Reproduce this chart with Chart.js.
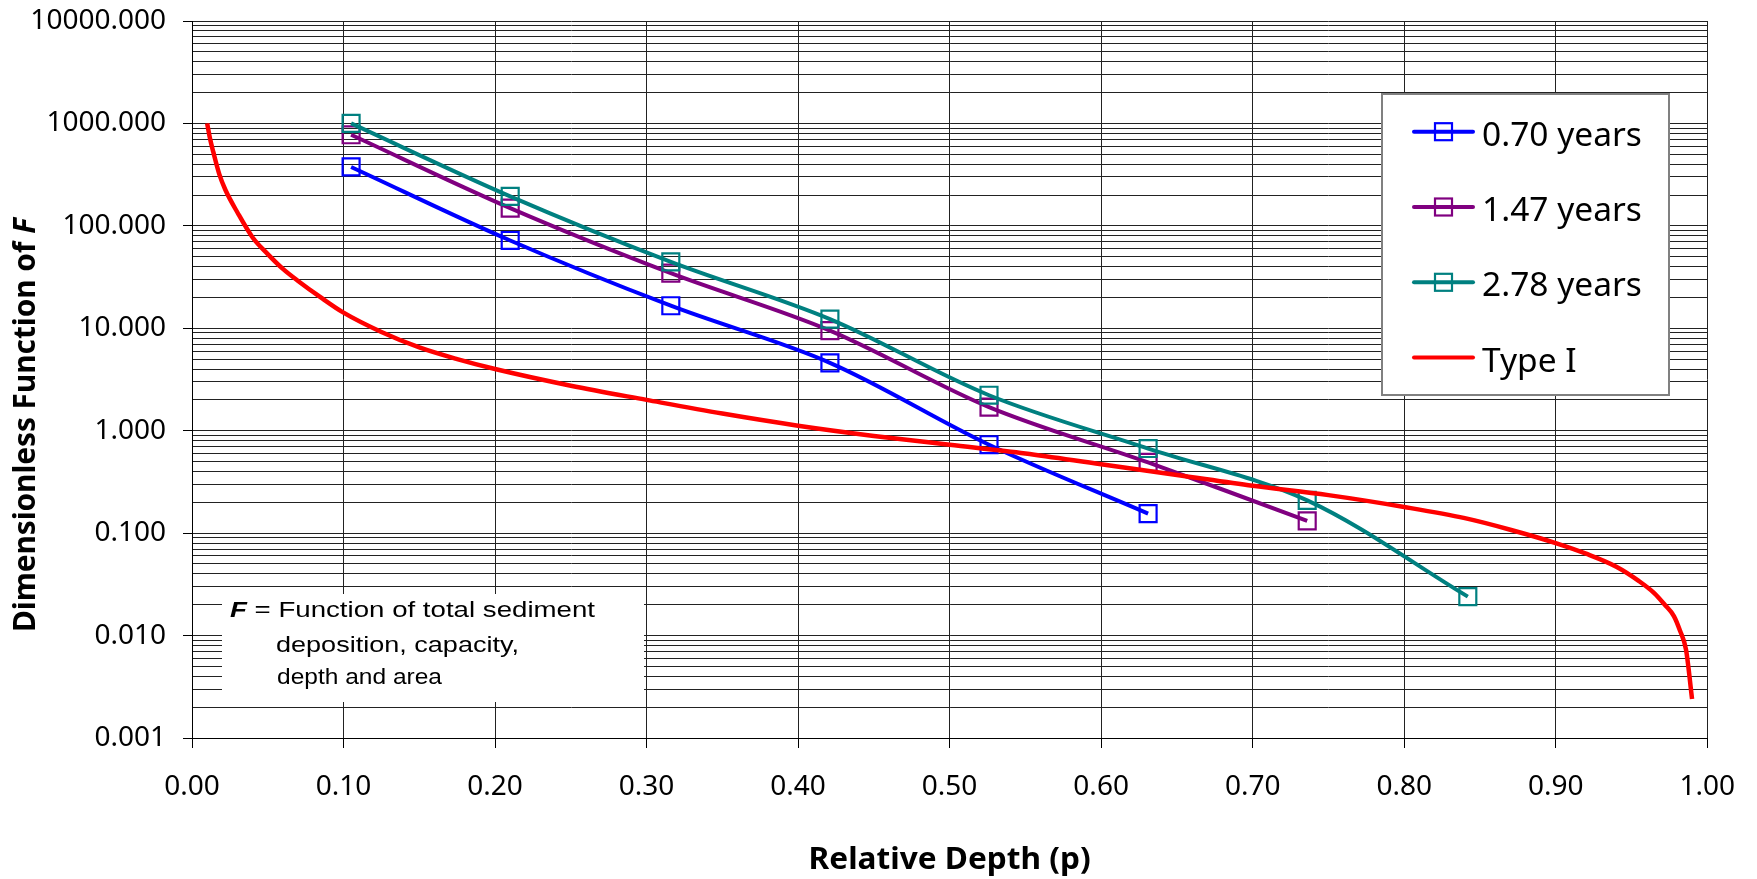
<!DOCTYPE html>
<html>
<head>
<meta charset="utf-8">
<title>Dimensionless Function of F</title>
<script src="https://cdn.jsdelivr.net/npm/chart.js@4.4.1/dist/chart.umd.min.js"></script>
<style>
  html, body { margin: 0; padding: 0; background: #fff; }
</style>
</head>
<body>
<canvas id="sedimentChart" width="1757" height="879"></canvas>
<script>
// Relative depth of the surveyed points (shared by all surveys)
const depthPoints = [0.105, 0.210, 0.316, 0.421, 0.526, 0.631, 0.736, 0.842];

// F for each survey
const f070years = [376, 72, 16.6, 4.6, 0.73, 0.155];
const f147years = [775, 149, 34.5, 9.5, 1.70, 0.49, 0.132];
const f278years = [1000, 194, 44.5, 12.3, 2.22, 0.67, 0.209, 0.024];

// Type I reservoir curve
const typeIDepth = [0.010, 0.012, 0.014, 0.018, 0.022, 0.030, 0.040, 0.050, 0.060, 0.070,
  0.085, 0.100, 0.125, 0.150, 0.175, 0.200, 0.250, 0.300, 0.350, 0.400,
  0.450, 0.500, 0.550, 0.600, 0.650, 0.700, 0.750, 0.800, 0.840, 0.870,
  0.900, 0.920, 0.940, 0.955, 0.965, 0.972, 0.978, 0.982, 0.986, 0.990];
const typeIF = [1000, 700, 530, 320, 225, 135, 77, 53, 38, 29,
  20, 14.2, 9.2, 6.5, 5.0, 4.0, 2.75, 2.0, 1.47, 1.12,
  0.89, 0.73, 0.60, 0.47, 0.37, 0.29, 0.235, 0.18, 0.14, 0.108,
  0.080, 0.063, 0.047, 0.034, 0.026, 0.020, 0.0155, 0.0112, 0.0073, 0.0024];

const seriesNames = ["0.70 years", "1.47 years", "2.78 years", "Type I"];
const seriesColors = ["#0000FF", "#800080", "#008080", "#FF0000"];

// Axis ticks
const yDecades = [0.001, 0.01, 0.1, 1, 10, 100, 1000, 10000];
const xTickValues = [0, 0.1, 0.2, 0.3, 0.4, 0.5, 0.6, 0.7, 0.8, 0.9, 1.0];

const toPoints = (xs, ys) => ys.map((y, i) => ({ x: xs[i], y }));
const isDecade = (v) => yDecades.some((d) => Math.abs(v - d) < d * 1e-6);

// Log grid: 1..9 inside every decade, plus the top line
const yGridValues = [];
yDecades.slice(0, -1).forEach((d) => {
  for (let m = 1; m <= 9; m++) yGridValues.push(Number((m * d).toPrecision(3)));
});
yGridValues.push(yDecades[yDecades.length - 1]);

const tickFont = { family: "'Noto Sans'", size: 28 };
const titleFont = "bold 29.5px 'Noto Sans'";
const titleItalic = "italic bold 29.5px 'Noto Sans'";

const surveySet = (idx, values, order) => ({
  label: seriesNames[idx],
  data: toPoints(depthPoints, values),
  borderColor: seriesColors[idx],
  backgroundColor: "transparent",
  borderWidth: 4,
  tension: 0.33,
  pointStyle: "rect",
  pointRadius: 12,
  pointBorderWidth: 2.2,
  pointBorderColor: seriesColors[idx],
  pointBackgroundColor: "transparent",
  order,
});

// draws runs of [text, font] squeezed/stretched to a given total width
const drawRuns = (ctx, runs, width) => {
  let total = 0;
  runs.forEach(([text, font]) => { ctx.font = font; total += ctx.measureText(text).width; });
  ctx.scale(width / total, 1);
  let cx = 0;
  runs.forEach(([text, font]) => {
    ctx.font = font;
    ctx.fillText(text, cx, 0);
    cx += ctx.measureText(text).width;
  });
};

// Legend, note box and axis titles
const decorPlugin = {
  id: "decor",
  afterDraw(chart) {
    const ctx = chart.ctx;
    const area = chart.chartArea;
    ctx.save();
    ctx.textBaseline = "alphabetic";

    // note box
    ctx.fillStyle = "#fff";
    ctx.fillRect(222, 594, 422, 108);
    ctx.fillStyle = "#000";
    const reg = "22.5px 'Liberation Sans'";
    const noteLine = (x, y, runs, width) => {
      ctx.save();
      ctx.translate(x, y);
      drawRuns(ctx, runs, width);
      ctx.restore();
    };
    noteLine(230, 617, [["F", "italic bold 22.5px 'Liberation Sans'"], [" = Function of total sediment", reg]], 365);
    noteLine(276, 652, [["deposition, capacity,", reg]], 243);
    noteLine(277, 684, [["depth and area", reg]], 165);

    // legend
    const lb = { left: 1382, top: 94, right: 1669, bottom: 395 };
    ctx.fillStyle = "#fff";
    ctx.fillRect(lb.left, lb.top, lb.right - lb.left, lb.bottom - lb.top);
    ctx.strokeStyle = "#808080";
    ctx.lineWidth = 2;
    ctx.strokeRect(lb.left, lb.top, lb.right - lb.left, lb.bottom - lb.top);
    seriesNames.forEach((name, i) => {
      const y = 131.7 + 75.3 * i;
      ctx.strokeStyle = seriesColors[i];
      ctx.lineWidth = 4;
      ctx.lineCap = "round";
      ctx.beginPath();
      ctx.moveTo(1414, y);
      ctx.lineTo(1473, y);
      ctx.stroke();
      if (i < 3) {
        ctx.lineWidth = 2.2;
        ctx.strokeRect(1435, y - 8.5, 17, 17);
      }
      ctx.fillStyle = "#000";
      ctx.font = "33.5px 'Noto Sans'";
      ctx.fillText(name, 1482, y + 14);
    });

    // x axis title
    ctx.fillStyle = "#000";
    ctx.save();
    ctx.translate((area.left + area.right) / 2 - 141, 869);
    drawRuns(ctx, [["Relative Depth (p)", titleFont]], 282);
    ctx.restore();

    // y axis title, italic F at the end
    ctx.save();
    ctx.translate(35, 632);
    ctx.rotate(-Math.PI / 2);
    drawRuns(ctx, [["Dimensionless Function of ", titleFont], ["F", titleItalic]], 414);
    ctx.restore();

    ctx.restore();
  },
};

new Chart(document.getElementById("sedimentChart"), {
  type: "line",
  data: {
    datasets: [
      surveySet(0, f070years, 3),
      surveySet(1, f147years, 2),
      surveySet(2, f278years, 1),
      {
        label: seriesNames[3],
        data: toPoints(typeIDepth, typeIF),
        borderColor: seriesColors[3],
        backgroundColor: "transparent",
        borderWidth: 4.5,
        cubicInterpolationMode: "monotone",
        pointRadius: 0,
        order: 0,
      },
    ],
  },
  options: {
    responsive: false,
    animation: false,
    events: [],
    layout: { padding: { left: 0, right: 49, top: 21, bottom: 0 } },
    plugins: { legend: { display: false }, tooltip: { enabled: false } },
    scales: {
      x: {
        type: "linear",
        min: 0,
        max: 1,
        afterBuildTicks: (scale) => { scale.ticks = xTickValues.map((v) => ({ value: v })); },
        afterFit: (scale) => { scale.height = 141; },
        ticks: {
          callback: (v) => Number(v).toFixed(2),
          font: tickFont,
          color: "#000",
          padding: 22,
          maxRotation: 0,
          autoSkip: false,
        },
        grid: { color: "#222", lineWidth: 1, tickLength: 10, tickColor: "#000" },
        border: { color: "#000", width: 1 },
      },
      y: {
        type: "logarithmic",
        min: 0.001,
        max: 10000,
        afterBuildTicks: (scale) => {
          scale.ticks = yGridValues.map((v) => ({ value: v, major: isDecade(v) }));
        },
        afterFit: (scale) => {
          scale.width = 192;
          scale.paddingTop = 0;
          scale.paddingBottom = 0;
        },
        ticks: {
          callback: (v) => (isDecade(v) ? Number(v).toFixed(3) : ""),
          font: tickFont,
          color: "#000",
          padding: 17,
          autoSkip: false,
        },
        grid: {
          color: "#222",
          lineWidth: 1,
          tickLength: 9,
          tickColor: (ctx) => (ctx.tick && isDecade(ctx.tick.value) ? "#000" : "rgba(0,0,0,0)"),
        },
        border: { color: "#000", width: 1 },
      },
    },
  },
  plugins: [decorPlugin],
});
</script>
</body>
</html>
